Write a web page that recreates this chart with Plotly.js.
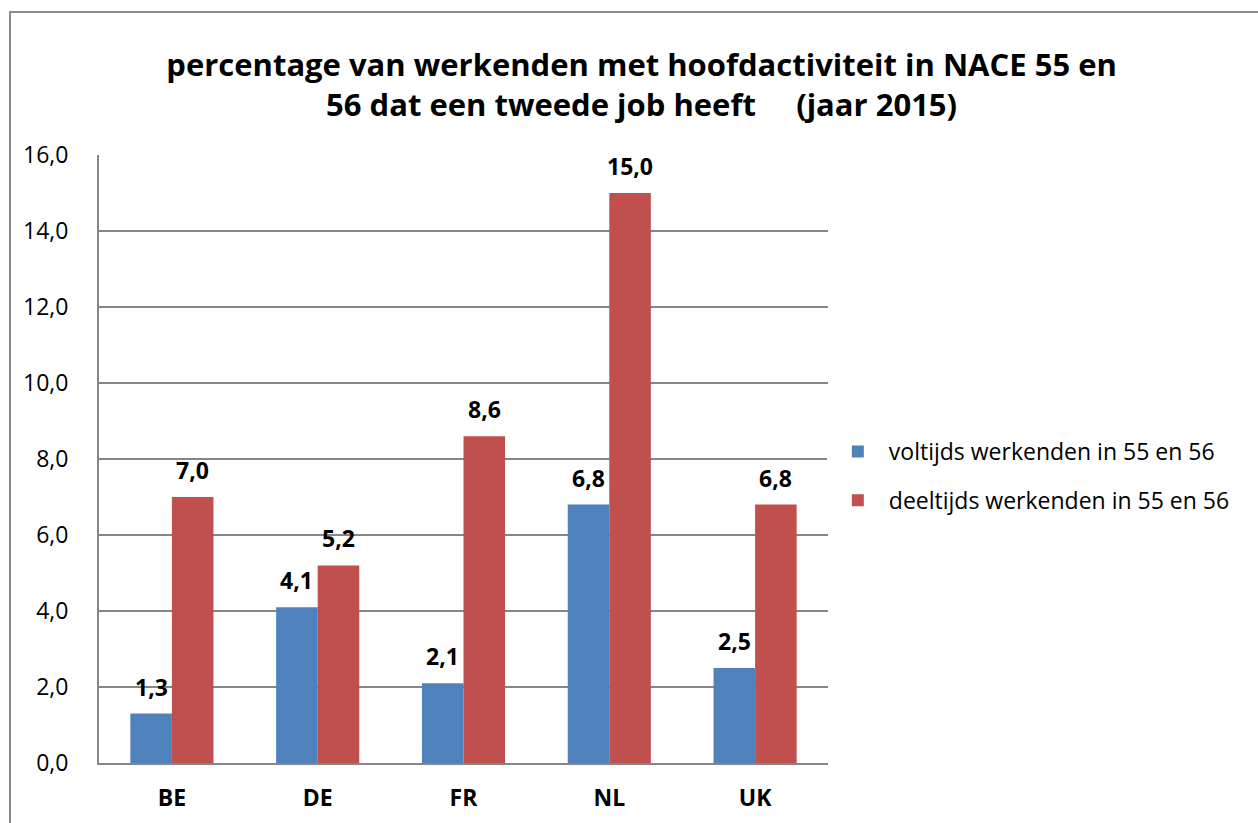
<!DOCTYPE html>
<html><head><meta charset="utf-8">
<script src="https://cdn.plot.ly/plotly-3.0.1.min.js"></script>
<style>
body{margin:0;background:#fff;}
#wrap{position:relative;width:1258px;height:823px;overflow:hidden;}
#frame{position:absolute;left:9px;top:11px;width:1300px;height:900px;border-left:2px solid #8c8c8c;border-top:2px solid #8c8c8c;box-sizing:border-box;pointer-events:none;z-index:5;}
#chart{position:absolute;left:0;top:0;width:1258px;height:823px;}
</style></head>
<body><div id="wrap"><div id="chart"></div><div id="frame"></div></div>
<script>
const categories = ["BE","DE","FR","NL","UK"];
const voltijds = [1.3, 4.1, 2.1, 6.8, 2.5];
const deeltijds = [7.0, 5.2, 8.6, 15.0, 6.8];
const seriesNames = ["voltijds werkenden in 55 en 56","deeltijds werkenden in 55 en 56"];
const tickVals = [0,2,4,6,8,10,12,14,16];

const fontFam = "Open Sans, Noto Sans, sans-serif";
const bargap = 0.43;
const fmt = v => v.toFixed(1).replace(".", ",");

const traces = [
  {type:"bar", name:seriesNames[0], legendgroup:"a", x:categories, y:voltijds, marker:{color:"#4f81bd"}},
  {type:"bar", name:seriesNames[1], legendgroup:"b", x:categories, y:deeltijds, marker:{color:"#c0504d"}}
];

const off = (1 - bargap) / 4;
const annotations = [];
[voltijds, deeltijds].forEach((series, s) => {
  series.forEach((v, i) => {
    annotations.push({x: i + (s === 0 ? -off : off), y: v, xref:"x", yref:"y",
      text: "<b>" + fmt(v) + "</b>", showarrow:false, yanchor:"middle", yshift:27,
      font:{family:fontFam, size:23, color:"#000"}});
  });
});

const layout = {
  width:1258, height:823,
  margin:{l:99, r:430, t:155, b:60},
  separators:",.",
  paper_bgcolor:"#fff", plot_bgcolor:"#fff",
  barmode:"group", bargap:bargap, bargroupgap:0,
  annotations: annotations,
  title:{text:"<b>percentage van werkenden met hoofdactiviteit in NACE 55 en<br>56 dat een tweede job heeft     (jaar 2015)</b>",
         font:{family:fontFam, size:31, color:"#000", lineheight:1.4}, x:0.51, xref:"container", xanchor:"center", y:1-76/823, yanchor:"top", yref:"container"},
  xaxis:{tickfont:{family:fontFam, size:23, color:"#000", weight:"bold"}, showline:true, linecolor:"#868686", linewidth:2, ticks:"", showgrid:false, ticklabelstandoff:13},
  yaxis:{range:[0,16], tickvals:tickVals, tickformat:".1f", tickfont:{family:fontFam, size:23, color:"#000"},
         showline:true, linecolor:"#868686", linewidth:2, gridcolor:"#868686", gridwidth:1.5, zeroline:false, ticks:"", ticklabelstandoff:24},
  legend:{x:0.9984, xanchor:"left", y:0.472, yanchor:"middle", font:{family:fontFam, size:23, color:"#000"}, traceorder:"grouped", tracegroupgap:16, itemwidth:52},
  showlegend:true
};

Plotly.newPlot("chart", traces, layout, {staticPlot:true});
</script></body></html>
